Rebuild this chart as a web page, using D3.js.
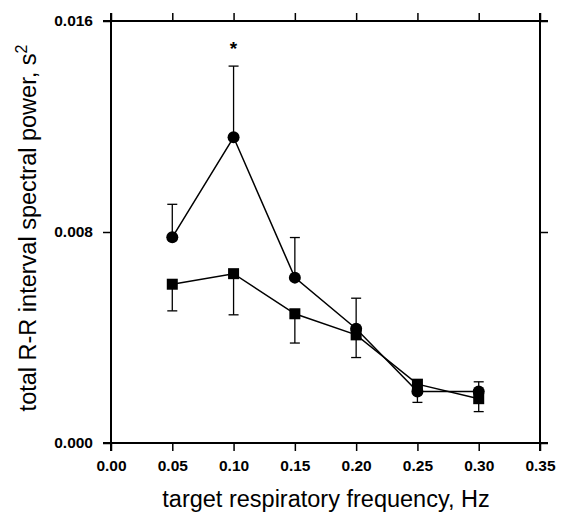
<!DOCTYPE html>
<html>
<head>
<meta charset="utf-8">
<script src="https://cdn.jsdelivr.net/npm/d3@7"></script>
<style>
  body { margin: 0; background: #fff; }
  svg text { font-family: "Liberation Sans", Arial, sans-serif; fill: #000; }
</style>
</head>
<body>
<div id="chart"></div>
<script>
const freqs = [0.05, 0.10, 0.15, 0.20, 0.25, 0.30];
const circleVals = [0.0078, 0.01159, 0.00627, 0.00433, 0.00195, 0.00195];
const circleUpper = [0.00905, 0.01429, 0.00779, 0.00549, 0.0022, 0.00232];
const squareVals = [0.00602, 0.00642, 0.0049, 0.0041, 0.00223, 0.00168];
const squareLower = [0.00501, 0.00486, 0.00379, 0.00324, 0.00154, 0.00119];
const xTicks = [0, 0.05, 0.10, 0.15, 0.20, 0.25, 0.30, 0.35];
const yTicks = [0, 0.008, 0.016];
const starAt = 0.10;

const W = 564, H = 516;
const svg = d3.select("#chart").append("svg")
  .attr("width", W).attr("height", H);

const x = d3.scaleLinear().domain([0, 0.35]).range([111, 540]);
const y = d3.scaleLinear().domain([0, 0.016]).range([443, 21]);

// frame lines (slightly overshooting like the original)
const frame = svg.append("g").attr("stroke", "#000").attr("stroke-width", 2);
frame.append("line").attr("x1", 103).attr("x2", 548).attr("y1", y(0)).attr("y2", y(0));
frame.append("line").attr("x1", 103).attr("x2", 548).attr("y1", y(0.016)).attr("y2", y(0.016));
frame.append("line").attr("x1", x(0)).attr("x2", x(0)).attr("y1", 13).attr("y2", 451);
frame.append("line").attr("x1", x(0.35)).attr("x2", x(0.35)).attr("y1", 13).attr("y2", 451);

// bottom axis
const xb = svg.append("g").attr("transform", `translate(0,${y(0)})`)
  .call(d3.axisBottom(x).tickValues(xTicks).tickFormat(d3.format(".2f")).tickSize(8).tickPadding(9));
xb.select(".domain").remove();
xb.selectAll("line").attr("stroke-width", 1.5);
xb.selectAll("text").style("font-size", "15.5px").style("font-weight", "bold");

// top axis ticks
const xt = svg.append("g").attr("transform", `translate(0,${y(0.016)})`)
  .call(d3.axisTop(x).tickValues(xTicks).tickFormat("").tickSize(8));
xt.select(".domain").remove();
xt.selectAll("line").attr("stroke-width", 1.5);

// left axis
const yl = svg.append("g").attr("transform", `translate(${x(0)},0)`)
  .call(d3.axisLeft(y).tickValues(yTicks).tickFormat(d3.format(".3f")).tickSize(8).tickPadding(10));
yl.select(".domain").remove();
yl.selectAll("line").attr("stroke-width", 1.5);
yl.selectAll("text").style("font-size", "15.5px").style("font-weight", "bold");

// right axis ticks
const yr = svg.append("g").attr("transform", `translate(${x(0.35)},0)`)
  .call(d3.axisRight(y).tickValues(yTicks).tickFormat("").tickSize(8));
yr.select(".domain").remove();
yr.selectAll("line").attr("stroke-width", 1.5);

const capW = 5;

// circle series error bars (upward)
const ce = svg.append("g").attr("stroke", "#000").attr("stroke-width", 1.3);
freqs.forEach((f, i) => {
  ce.append("line").attr("x1", x(f)).attr("x2", x(f)).attr("y1", y(circleVals[i])).attr("y2", y(circleUpper[i]));
  ce.append("line").attr("x1", x(f) - capW).attr("x2", x(f) + capW).attr("y1", y(circleUpper[i])).attr("y2", y(circleUpper[i]));
});

// square series error bars (downward)
freqs.forEach((f, i) => {
  ce.append("line").attr("x1", x(f)).attr("x2", x(f)).attr("y1", y(squareVals[i])).attr("y2", y(squareLower[i]));
  ce.append("line").attr("x1", x(f) - capW).attr("x2", x(f) + capW).attr("y1", y(squareLower[i])).attr("y2", y(squareLower[i]));
});

const line = d3.line().x(d => x(d[0])).y(d => y(d[1]));

svg.append("path")
  .datum(freqs.map((f, i) => [f, squareVals[i]]))
  .attr("d", line).attr("fill", "none").attr("stroke", "#000").attr("stroke-width", 1.5);
svg.append("path")
  .datum(freqs.map((f, i) => [f, circleVals[i]]))
  .attr("d", line).attr("fill", "none").attr("stroke", "#000").attr("stroke-width", 1.5);

svg.append("g").selectAll("rect")
  .data(freqs.map((f, i) => [f, squareVals[i]]))
  .enter().append("rect")
  .attr("x", d => x(d[0]) - 5.5).attr("y", d => y(d[1]) - 5.5)
  .attr("width", 11).attr("height", 11).attr("fill", "#000");

svg.append("g").selectAll("circle")
  .data(freqs.map((f, i) => [f, circleVals[i]]))
  .enter().append("circle")
  .attr("cx", d => x(d[0])).attr("cy", d => y(d[1]))
  .attr("r", 6).attr("fill", "#000");

// significance star
svg.append("text")
  .attr("x", x(starAt)).attr("y", 55)
  .attr("text-anchor", "middle")
  .style("font-size", "19px").style("font-weight", "bold")
  .text("*");

// axis titles
svg.append("text")
  .attr("x", 326)
  .attr("y", 507)
  .attr("text-anchor", "middle")
  .style("font-size", "23.5px")
  .text("target respiratory frequency, Hz");

const yt = svg.append("text")
  .attr("transform", `translate(36,${(y(0) + y(0.016)) / 2 - 4}) rotate(-90)`)
  .attr("text-anchor", "middle")
  .style("font-size", "23.5px");
yt.append("tspan").text("total R-R interval spectral power, s");
yt.append("tspan").attr("dy", -9).style("font-size", "16px").text("2");
</script>
</body>
</html>
